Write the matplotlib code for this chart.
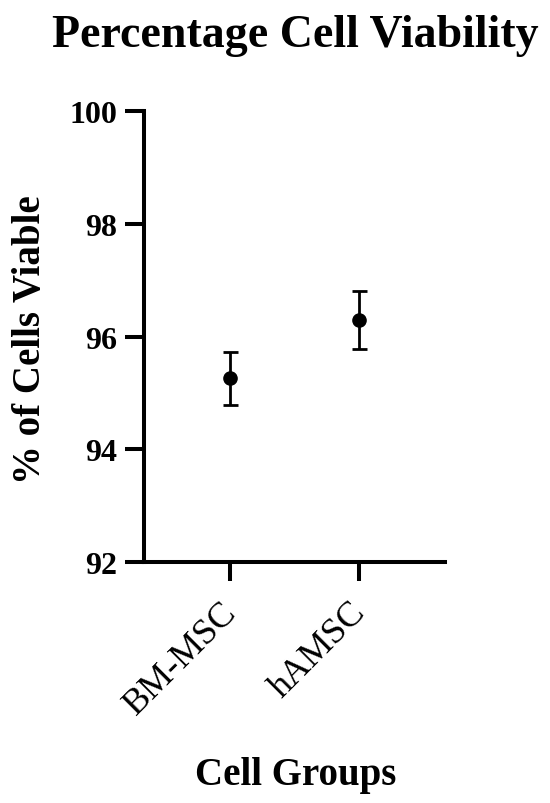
import matplotlib
matplotlib.use("Agg")
import matplotlib.pyplot as plt
import matplotlib.transforms as mtransforms

groups = ["BM-MSC", "hAMSC"]
means = [95.26, 96.29]
errors = [0.47, 0.52]
yticks = [92, 94, 96, 98, 100]

plt.rcParams['font.family'] = ['Liberation Serif', 'DejaVu Serif']
plt.rcParams['font.weight'] = 'bold'

fig = plt.figure(figsize=(5.5, 8.04), dpi=100)
W, H = 550, 804
ax = fig.add_axes([144 / W, 1 - 563 / H, (445 - 144) / W, (563 - 112) / H])

x = list(range(len(groups)))
ax.errorbar(x, means, yerr=errors, fmt='o', color='black', markersize=9.5,
            elinewidth=2.0, capsize=5.4, capthick=2.0)

ax.set_xlim(-0.667, 1.667)
ax.set_ylim(92, 100)
ax.set_yticks(yticks)
ax.set_yticklabels([str(t) for t in yticks])
ax.set_xticks(x)
ax.set_xticklabels(groups, rotation=45, ha='right', rotation_mode='anchor',
                   fontsize=26, fontweight='normal')

for s in ['top', 'right']:
    ax.spines[s].set_visible(False)
for s in ['left', 'bottom']:
    ax.spines[s].set_linewidth(2.9)
    ax.spines[s].set_capstyle('projecting')

ax.tick_params(axis='both', width=2.9, length=13.5, direction='out', colors='black')
ax.tick_params(axis='y', labelsize=23, pad=6)
ax.tick_params(axis='x', pad=16)
for lbl in ax.get_yticklabels():
    lbl.set_fontweight('bold')

offset = mtransforms.ScaledTranslation(-10 / 100, 8 / 100, fig.dpi_scale_trans)
for lbl in ax.get_xticklabels():
    lbl.set_transform(lbl.get_transform() + offset)

ax.set_ylabel("% of Cells Viable", fontsize=28, fontweight='bold')
ax.yaxis.set_label_coords(-0.316, 0.495)
ax.set_xlabel("Cell Groups", fontsize=28, fontweight='bold')
ax.xaxis.set_label_coords(0.505, -0.43)

fig.text(295 / W, 1 - 47 / H, "Percentage Cell Viability", fontsize=33,
         fontweight='bold', ha='center', va='baseline')

fig.savefig("out.png", dpi=100, facecolor='white')
